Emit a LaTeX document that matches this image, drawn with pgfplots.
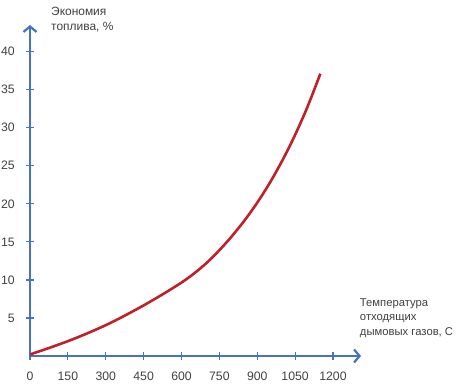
\documentclass[border=0pt]{standalone}
\usepackage{pgfplots}
\pgfplotsset{compat=1.18}
\usepackage{fontspec}
\setmainfont{Liberation Sans}
\usetikzlibrary{arrows.meta}
\definecolor{axblue}{HTML}{4472C4}
\definecolor{curvered}{HTML}{C0202A}
\definecolor{txt}{HTML}{404040}
\begin{document}
\fontsize{12.3}{14.5}\selectfont
\begin{tikzpicture}
\useasboundingbox (-30bp,-30bp) rectangle (428bp,356bp);
\begin{axis}[
  at={(0,0)}, anchor=origin,
  scale only axis, width=331bp, height=331bp,
  xmin=0, xmax=1311, ymin=0, ymax=43.5,
  axis lines=left,
  axis line style={axblue, line width=2.2bp, -{Straight Barb[length=5.5bp,width=13bp,line width=2.2bp]}},
  xtick={0,150,...,1200}, ytick={5,10,...,40},
  tick align=center, major tick length=8bp,
  tick style={axblue, line width=1.2bp},
  xticklabel style={yshift=-8bp, text=txt},
  yticklabel style={xshift=-7bp, text=txt},
  /pgf/number format/assume math mode=true,
  /pgf/number format/set thousands separator={},
  clip=false,
]
\addplot[curvered, line width=2.6bp, smooth, tension=0.5] coordinates {
(0,0.2) (75,1.05) (150,1.95) (225,2.95) (300,4.05) (375,5.3) (450,6.65) (525,8.1) (600,9.65) (650,10.85) (700,12.25) (750,13.9) (800,15.76) (850,17.83) (900,20.15) (950,22.77) (1000,25.73) (1050,29.06) (1100,32.82) (1150,37.1)
};
\node[anchor=north west, align=left, text=txt, font=\fontsize{12}{14.5}\selectfont] at (rel axis cs:0.051,1.066) {Экономия\\топлива, \%};
\node[anchor=north west, align=left, text=txt, font=\fontsize{11.3}{14.5}\selectfont] at (rel axis cs:0.984,0.186) {Температура\\отходящих\\дымовых газов, С};
\end{axis}
\end{tikzpicture}
\end{document}
